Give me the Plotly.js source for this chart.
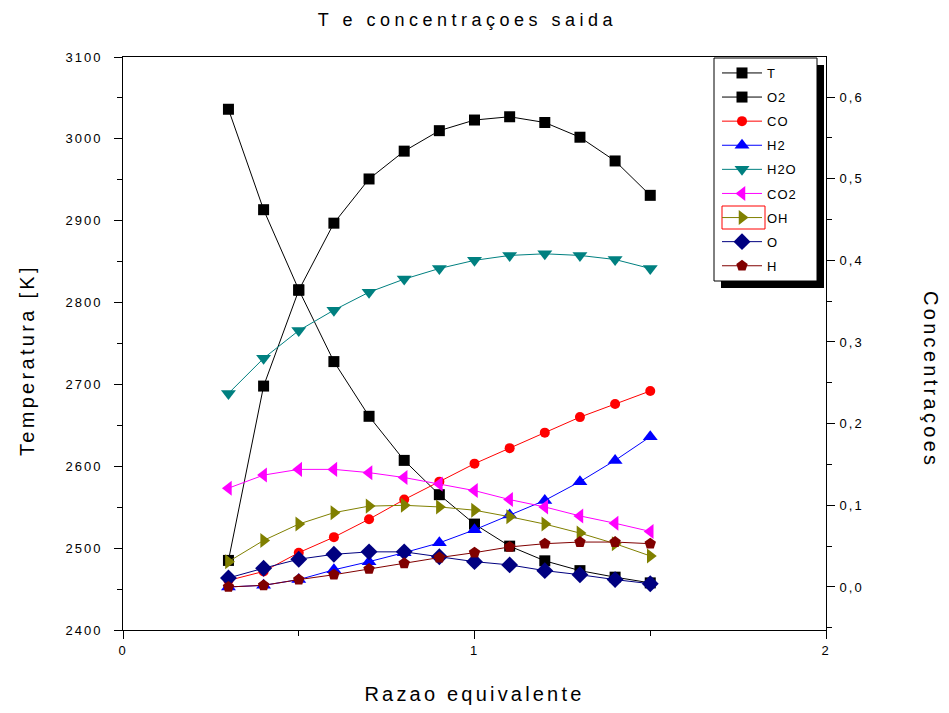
<!DOCTYPE html>
<html>
<head>
<meta charset="utf-8">
<script src="https://cdn.plot.ly/plotly-3.0.1.min.js"></script>
<style>
  html, body { margin: 0; padding: 0; background: #fff; }
  #chart { width: 949px; height: 713px; }
  .gtitle { letter-spacing: 4.5px; }
  .xtitle { letter-spacing: 3.2px; }
  .annotation-text { letter-spacing: 3.3px; }
  .xtick text, .ytick text, .y2tick text { letter-spacing: 2px; }
  .legendtext { letter-spacing: 1px; }
</style>
</head>
<body>
<div id="chart"></div>
<script>
// Equivalence ratio (x) and outlet results
const phi = [0.3, 0.4, 0.5, 0.6, 0.7, 0.8, 0.9, 1.0, 1.1, 1.2, 1.3, 1.4, 1.5];

// Outlet temperature [K] (left axis)
const temperature = [2485, 2698, 2815, 2897, 2951, 2985, 3010, 3023, 3027, 3020, 3002, 2973, 2931];

// Outlet mole fractions (right axis)
const o2  = [0.585, 0.462, 0.364, 0.276, 0.209, 0.155, 0.113, 0.077, 0.050, 0.032, 0.020, 0.012, 0.005];
const co  = [0.008, 0.019, 0.042, 0.061, 0.083, 0.107, 0.129, 0.151, 0.170, 0.189, 0.208, 0.224, 0.240];
const h2  = [0.000, 0.002, 0.009, 0.021, 0.031, 0.042, 0.054, 0.070, 0.088, 0.106, 0.129, 0.155, 0.184];
const h2o = [0.237, 0.280, 0.314, 0.339, 0.361, 0.377, 0.390, 0.400, 0.406, 0.408, 0.406, 0.401, 0.390];
const co2 = [0.121, 0.137, 0.144, 0.144, 0.140, 0.134, 0.126, 0.118, 0.107, 0.098, 0.087, 0.078, 0.068];
const oh  = [0.031, 0.057, 0.077, 0.091, 0.099, 0.100, 0.098, 0.094, 0.086, 0.077, 0.066, 0.053, 0.038];
const o   = [0.011, 0.023, 0.034, 0.040, 0.043, 0.043, 0.037, 0.031, 0.027, 0.020, 0.015, 0.009, 0.004];
const h   = [0.000, 0.002, 0.009, 0.015, 0.022, 0.029, 0.036, 0.042, 0.049, 0.053, 0.055, 0.055, 0.053];

const seriesNames = ['T', 'O2', 'CO', 'H2', 'H2O', 'CO2', 'OH', 'O', 'H'];
const seriesData  = [temperature, o2, co, h2, h2o, co2, oh, o, h];
const seriesAxis  = ['y', 'y2', 'y2', 'y2', 'y2', 'y2', 'y2', 'y2', 'y2'];
const seriesColor = ['#000000', '#000000', '#ff0000', '#0000ff', '#008080', '#ff00ff', '#808000', '#000080', '#800000'];
const seriesSymbol = ['square', 'square', 'circle', 'triangle-up', 'triangle-down', 'triangle-left', 'triangle-right', 'diamond', 'pentagon'];
const seriesSize  = [11, 11, 10, 13, 13, 13, 13, 13, 12];

const traces = seriesNames.map((name, i) => ({
  x: phi,
  y: seriesData[i],
  yaxis: seriesAxis[i],
  name: name,
  legendgroup: name,
  type: 'scatter',
  mode: 'lines+markers',
  line: { color: seriesColor[i], width: 1 },
  marker: { symbol: seriesSymbol[i], size: seriesSize[i], color: seriesColor[i],
            line: { color: seriesColor[i], width: 0 } }
}));

// pixel helpers for the legend frame decoration (plot area 123..826 x 57..630)
const L = 123, R = 826, T = 57, B = 630;
const px = v => (v - L) / (R - L);
const py = v => (B - v) / (B - T);

const font = 'Liberation Sans, Arial, sans-serif';

const layout = {
  width: 949,
  height: 713,
  margin: { l: L, r: 949 - R, t: T, b: 713 - B },
  paper_bgcolor: '#ffffff',
  plot_bgcolor: '#ffffff',
  separators: ',.',
  font: { family: font, color: '#000000', size: 13 },
  showlegend: true,
  title: {
    text: 'T e concentraçoes saida',
    font: { family: font, size: 18, color: '#000000' },
    xref: 'paper', x: 0.49, xanchor: 'center',
    yref: 'container', y: 1 - 20 / 713, yanchor: 'middle'
  },
  xaxis: {
    range: [0, 2],
    tick0: 0, dtick: 1,
    ticks: 'outside', ticklen: 8, tickwidth: 1, tickcolor: '#000',
    minor: { dtick: 0.5, ticks: 'outside', ticklen: 5, tickwidth: 1, tickcolor: '#000' },
    showline: true, linecolor: '#000', linewidth: 1, mirror: true,
    showgrid: false, zeroline: false,
    tickfont: { family: font, size: 13 },
    title: { text: 'Razao equivalente', font: { family: font, size: 20 }, standoff: 30 }
  },
  yaxis: {
    range: [2400, 3100],
    tick0: 2400, dtick: 100,
    ticks: 'outside', ticklen: 8, tickwidth: 1, tickcolor: '#000',
    minor: { dtick: 50, ticks: 'outside', ticklen: 5, tickwidth: 1, tickcolor: '#000' },
    showline: true, linecolor: '#000', linewidth: 1,
    showgrid: false, zeroline: false,
    tickfont: { family: font, size: 13 },
    ticklabelstandoff: 9
  },
  yaxis2: {
    overlaying: 'y',
    side: 'right',
    range: [-0.0527, 0.649],
    tick0: 0, dtick: 0.1, tickformat: '.1f',
    ticks: 'outside', ticklen: 8, tickwidth: 1, tickcolor: '#000',
    minor: { dtick: 0.05, ticks: 'outside', ticklen: 5, tickwidth: 1, tickcolor: '#000' },
    showline: true, linecolor: '#000', linewidth: 1,
    showgrid: false, zeroline: false,
    tickfont: { family: font, size: 13 },
    ticklabelstandoff: 2
  },
  legend: {
    x: px(717), xanchor: 'left',
    y: py(58), yanchor: 'top',
    bgcolor: 'rgba(0,0,0,0)',
    borderwidth: 0,
    itemwidth: 40,
    tracegroupgap: 4.2,
    font: { family: font, size: 13, color: '#000' }
  },
  annotations: [
    {
      text: 'Temperatura [K]',
      xref: 'paper', yref: 'paper',
      x: px(27), y: py(360),
      xanchor: 'center', yanchor: 'middle',
      textangle: -90,
      showarrow: false,
      font: { family: font, size: 20, color: '#000' }
    },
    {
      text: 'Concentraçoes',
      xref: 'paper', yref: 'paper',
      x: px(931), y: py(380),
      xanchor: 'center', yanchor: 'middle',
      textangle: 90,
      showarrow: false,
      font: { family: font, size: 20, color: '#000' }
    }
  ],
  shapes: [
    // legend drop shadow
    { type: 'rect', xref: 'paper', yref: 'paper', layer: 'above',
      x0: px(721), x1: px(824), y0: py(288), y1: py(65),
      fillcolor: '#000', line: { width: 0 } },
    // legend frame
    { type: 'rect', xref: 'paper', yref: 'paper', layer: 'above',
      x0: px(714), x1: px(817), y0: py(281), y1: py(58),
      fillcolor: '#fff', line: { color: '#000', width: 1 } },
    // highlighted OH entry
    { type: 'rect', xref: 'paper', yref: 'paper', layer: 'above',
      x0: px(722), x1: px(765), y0: py(229), y1: py(206),
      fillcolor: 'rgba(0,0,0,0)', line: { color: '#ff0000', width: 1 } }
  ]
};

Plotly.newPlot('chart', traces, layout, { displayModeBar: false, staticPlot: true });
</script>
</body>
</html>
